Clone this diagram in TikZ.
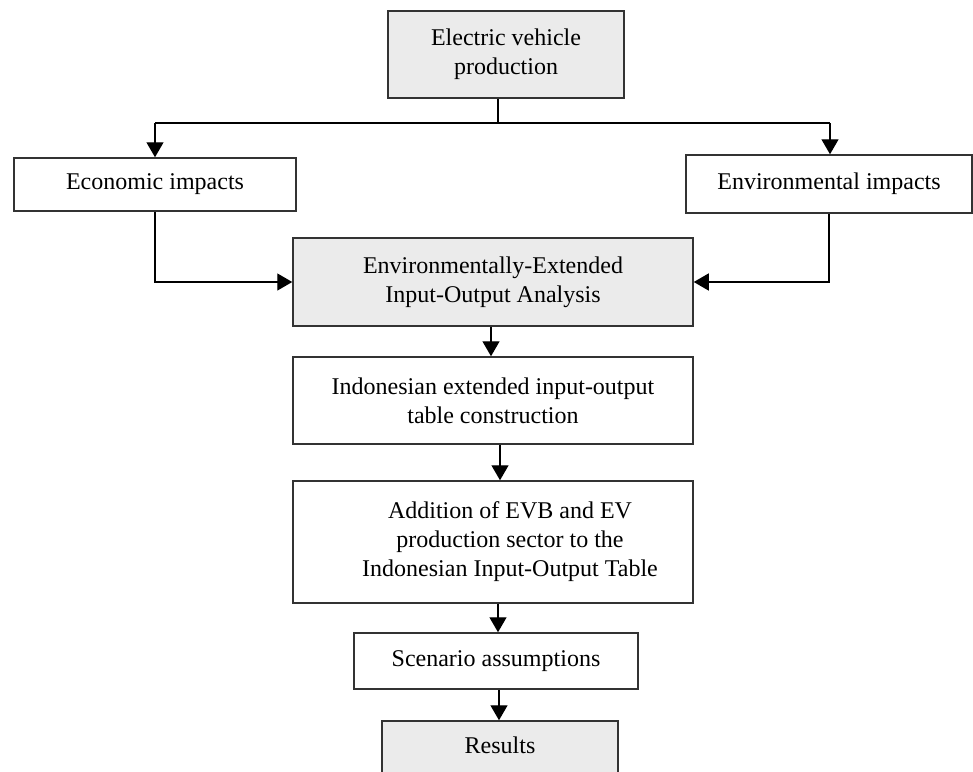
\documentclass[tikz,border=0pt]{standalone}
\usepackage{fontspec}
\setmainfont{Liberation Serif}
\usetikzlibrary{arrows.meta}
\begin{document}
\begin{tikzpicture}[x=1pt,y=-1pt,
  box/.style={rectangle, draw=black!80, line width=1.5pt, inner sep=0pt, align=center, font=\fontsize{24}{29}\selectfont},
  graybox/.style={box, fill=black!8},
  lbl/.style={align=center, font=\fontsize{24}{29}\selectfont},
  conn/.style={line width=1.4pt, -{Triangle[length=15pt,width=17pt]}},
  bar/.style={line width=2.5pt}]
\useasboundingbox (0,0) rectangle (973,771);
\clip (0,0) rectangle (973,771);
% boxes
\node[graybox, minimum width=236pt, minimum height=87pt] (ev) at (506,54.5) {Electric vehicle\\production};
\node[box, minimum width=282pt, minimum height=53pt] (econ) at (155,184.5) {Economic impacts};
\node[box, minimum width=286pt, minimum height=58pt] (env) at (829,184) {Environmental impacts};
\node[graybox, minimum width=400pt, minimum height=88pt] (ee) at (493,282) {Environmentally-Extended\\Input-Output Analysis};
\node[box, minimum width=400pt, minimum height=87pt] (indo) at (493,400.5) {Indonesian extended input-output\\table construction};
\node[box, minimum width=400pt, minimum height=122pt,
  label={[lbl, xshift=17pt]center:Addition of EVB and EV\\production sector to the\\Indonesian Input-Output Table}] (add) at (493,542) {};
\node[box, minimum width=284pt, minimum height=56pt] (scen) at (496,661) {Scenario assumptions};
\node[graybox, minimum width=236pt, minimum height=70pt,
  label={[lbl, yshift=11pt]center:Results}] (res) at (500,756) {};
% connectors
\coordinate (j) at (498,123);
\coordinate (bl) at (155,123);
\coordinate (br) at (830,123);
\coordinate (x1) at (491,0);
\coordinate (x2) at (500,0);
\coordinate (x3) at (498,0);
\coordinate (x4) at (499,0);
\draw[line width=2pt] (ev.south -| j) -- (j);
\draw[bar] (bl) -- (br);
\draw[conn] (bl) -- (econ.north -| bl);
\draw[conn] (br) -- (env.north -| br);
\draw[conn] (econ.south) |- (ee.west);
\draw[conn] (env.south) |- (ee.east);
\draw[conn] (ee.south -| x1) -- (indo.north -| x1);
\draw[conn] (indo.south -| x2) -- (add.north -| x2);
\draw[conn] (add.south -| x3) -- (scen.north -| x3);
\draw[conn] (scen.south -| x4) -- (res.north -| x4);
\end{tikzpicture}
\end{document}
